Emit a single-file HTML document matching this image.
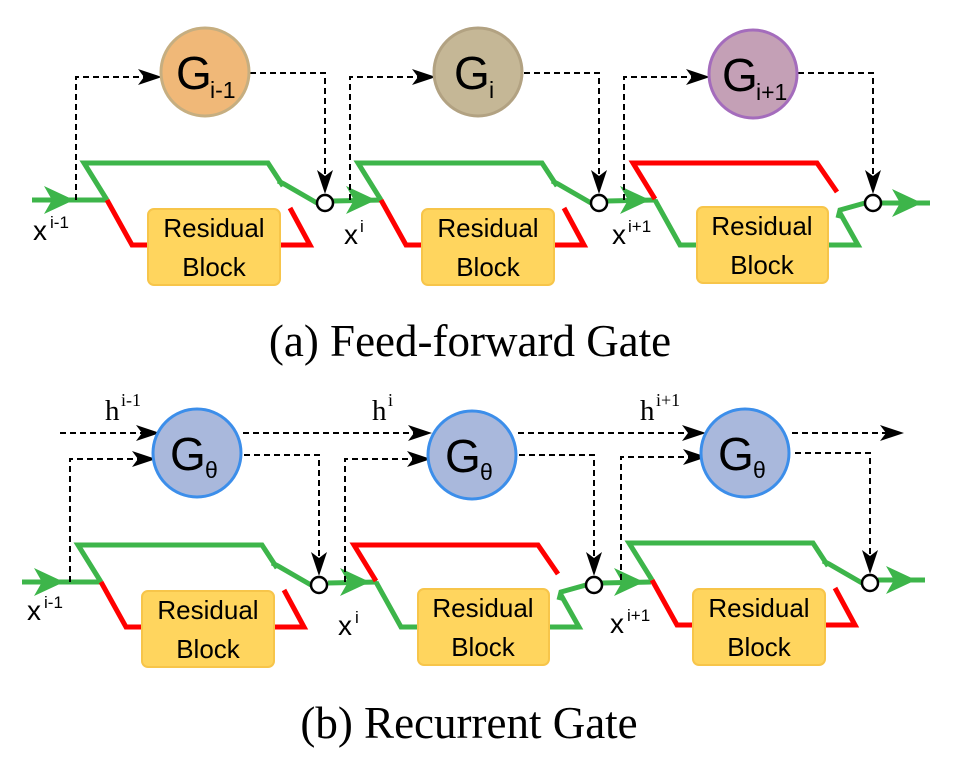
<!DOCTYPE html>
<html><head><meta charset="utf-8"><style>
html,body{margin:0;padding:0;background:#fff;}
svg{display:block;}
.rb{font-family:"Liberation Sans",sans-serif;font-size:26px;fill:#000;}
.lab{font-family:"Liberation Sans",sans-serif;font-size:28px;fill:#000;}
.sup{font-family:"Liberation Sans",sans-serif;font-size:17px;fill:#000;}
.cap{font-family:"Liberation Serif",serif;font-size:45px;fill:#000;}
.hl{font-family:"Liberation Serif",serif;font-size:29px;fill:#000;}
.hs{font-family:"Liberation Serif",serif;font-size:18px;fill:#000;}
.g{font-family:"Liberation Sans",sans-serif;font-size:46px;fill:#000;}
.gs{font-family:"Liberation Sans",sans-serif;font-size:23px;fill:#000;}
</style></head><body>
<svg width="966" height="770" viewBox="0 0 966 770" xmlns="http://www.w3.org/2000/svg">
<defs>
<g id="dash">
  <path d="M76,200 L76,77 L152,77" fill="none" stroke="#000" stroke-width="2" stroke-dasharray="6,4"/>
  <path d="M162,77 L138,69 L144,77 L138,85 Z" fill="#000"/>
  <path d="M250,73 L325,73 L325,183" fill="none" stroke="#000" stroke-width="2" stroke-dasharray="6,4"/>
  <path d="M325,194 L317,170 L325,176 L333,170 Z" fill="#000"/>
  <circle cx="325" cy="203" r="8" fill="#fff" stroke="#000" stroke-width="2.5"/>
</g>
<g id="normal">
  <path d="M107,200 L84,163 L268,163 L283,186" fill="none" stroke="#3DB54A" stroke-width="5"/>
  <path d="M278,181 L284,184 L317,203" fill="none" stroke="#3DB54A" stroke-width="5"/>
  <path d="M107,200 L132,245 L150,245 M278,245 L310,245 L290,208" fill="none" stroke="#FF0000" stroke-width="5"/>
  <rect x="148" y="209" width="132" height="76" rx="6" fill="#FFD55E" stroke="#F7C54A" stroke-width="2"/>
  <text class="rb" x="214" y="237" text-anchor="middle">Residual</text>
  <text class="rb" x="214" y="276" text-anchor="middle">Block</text>
  <use href="#dash"/>
</g>
<g id="flip">
  <path d="M107,199 L85,163 L269,163 L289,192" fill="none" stroke="#FF0000" stroke-width="5"/>
  <path d="M107,200 L132,245 L150,245 M280,245 L310,245 L292,213 M290,218 L292,210 L317,203" fill="none" stroke="#3DB54A" stroke-width="5"/>
  <rect x="149" y="207" width="131" height="76" rx="6" fill="#FFD55E" stroke="#F7C54A" stroke-width="2"/>
  <text class="rb" x="214" y="235" text-anchor="middle">Residual</text>
  <text class="rb" x="214" y="274" text-anchor="middle">Block</text>
  <use href="#dash"/>
</g>
<path id="garr" d="M74,200 L44,186 L52,200 L44,214 Z" fill="#3DB54A"/>
</defs>

<!-- Panel a -->
<g>
  <path d="M32,200 L107,200 M333,201 L382,200 M607,201 L656,200 M881,203 L930,203" stroke="#3DB54A" stroke-width="5" fill="none"/>
  <use href="#garr"/>
  <use href="#garr" transform="translate(302,0)"/>
  <use href="#garr" transform="translate(576,0)"/>
  <use href="#garr" transform="translate(848,3)"/>
  <use href="#normal"/>
  <use href="#normal" transform="translate(274,0)"/>
  <use href="#flip" transform="translate(548,0)"/>
  <circle cx="205" cy="72" r="44" fill="#F0B878" stroke="#C6AE80" stroke-width="3"/>
  <text class="g" x="176" y="89">G</text><text class="gs" x="210" y="98">i-1</text>
  <circle cx="478" cy="72" r="44" fill="#C5B796" stroke="#B2A282" stroke-width="3"/>
  <text class="g" x="454" y="89">G</text><text class="gs" x="489" y="98">i</text>
  <circle cx="753" cy="74" r="44" fill="#C4A0B6" stroke="#A46CBC" stroke-width="3"/>
  <text class="g" x="722" y="91">G</text><text class="gs" x="756" y="100">i+1</text>
  <text class="lab" x="33" y="240">x</text><text class="sup" x="50" y="228">i-1</text>
  <text class="lab" x="344" y="244">x</text><text class="sup" x="360" y="232">i</text>
  <text class="lab" x="612" y="244">x</text><text class="sup" x="628" y="232">i+1</text>
  <text class="cap" x="470" y="356" text-anchor="middle">(a) Feed-forward Gate</text>
</g>

<!-- Panel b -->
<g>
  <path d="M60,433 L150,433 M243,433 L420,433 M518,433 L694,433 M792,433 L892,433" stroke="#000" stroke-width="2" stroke-dasharray="6,4" fill="none"/>
  <path d="M160,433 L136,425 L142,433 L136,441 Z M432,433 L408,425 L414,433 L408,441 Z M706,433 L682,425 L688,433 L682,441 Z M904,433 L880,425 L886,433 L880,441 Z" fill="#000"/>
  <path d="M22,582 L102,582 M328,583 L377,582 M602,583 L651,582 M878,580 L925,580" stroke="#3DB54A" stroke-width="5" fill="none"/>
  <use href="#garr" transform="translate(-10,382)"/>
  <use href="#garr" transform="translate(296,382)"/>
  <use href="#garr" transform="translate(570,382)"/>
  <use href="#garr" transform="translate(842,380)"/>
  <use href="#normal" transform="translate(-6,382)"/>
  <use href="#flip" transform="translate(269,382)"/>
  <use href="#normal" transform="translate(545,380)"/>
  <circle cx="197" cy="453" r="44" fill="#A9B8DC" stroke="#3C8EEA" stroke-width="3"/>
  <text class="g" x="170" y="470">G</text><text class="gs" x="205" y="478">θ</text>
  <circle cx="472" cy="455" r="44" fill="#A9B8DC" stroke="#3C8EEA" stroke-width="3"/>
  <text class="g" x="445" y="472">G</text><text class="gs" x="480" y="480">θ</text>
  <circle cx="745" cy="453" r="44" fill="#A9B8DC" stroke="#3C8EEA" stroke-width="3"/>
  <text class="g" x="718" y="470">G</text><text class="gs" x="753" y="478">θ</text>
  <text class="hl" x="105" y="420">h</text><text class="hs" x="121" y="406">i-1</text>
  <text class="hl" x="372" y="420">h</text><text class="hs" x="388" y="406">i</text>
  <text class="hl" x="640" y="420">h</text><text class="hs" x="656" y="406">i+1</text>
  <text class="lab" x="27" y="620">x</text><text class="sup" x="44" y="608">i-1</text>
  <text class="lab" x="338" y="635">x</text><text class="sup" x="355" y="623">i</text>
  <text class="lab" x="610" y="633">x</text><text class="sup" x="627" y="621">i+1</text>
  <text class="cap" x="469" y="738" text-anchor="middle">(b) Recurrent Gate</text>
</g>
</svg>
</body></html>
